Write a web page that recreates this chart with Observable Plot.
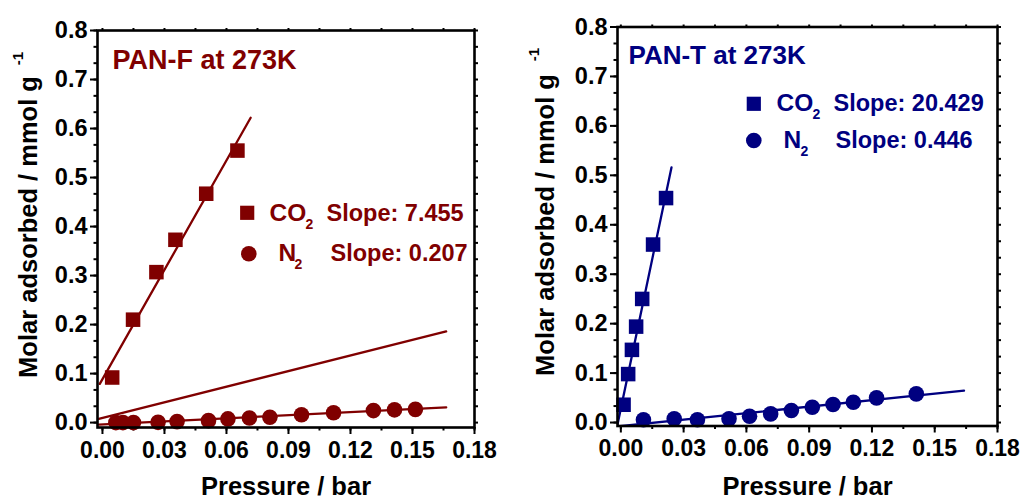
<!DOCTYPE html>
<html><head><meta charset="utf-8">
<script src="https://cdn.jsdelivr.net/npm/d3@7"></script>
<script src="https://cdn.jsdelivr.net/npm/@observablehq/plot@0.6"></script>
<style>
body{margin:0;background:#fff}
#wrap{position:relative;width:1023px;height:499px;overflow:hidden;background:#fff}
#wrap svg{position:absolute;top:0}
</style>
</head><body><div id="wrap"></div>
<script>
// ---- tick labels ----
const xTickLabels = [0.00, 0.03, 0.06, 0.09, 0.12, 0.15, 0.18];
const yTickLabels = [0.0, 0.1, 0.2, 0.3, 0.4, 0.5, 0.6, 0.7, 0.8];
const xAxisTitle = "Pressure / bar";
const yAxisTitle = "Molar adsorbed / mmol g";
const yAxisSup = "-1";

// ---- PAN-F (left) ----
const pfTitle = "PAN-F at 273K";
const pfCO2Pressure = [0.0047, 0.0148, 0.0261, 0.0353, 0.0502, 0.0653];
const pfCO2Uptake   = [0.092, 0.210, 0.307, 0.373, 0.467, 0.555];
const pfN2Pressure  = [0.0065, 0.0099, 0.0150, 0.0269, 0.0361, 0.0513, 0.0607, 0.0711, 0.0810, 0.0963, 0.1118, 0.1311, 0.1413, 0.1514];
const pfN2Uptake    = [0.000, 0.000, 0.000, 0.0005, 0.002, 0.004, 0.0075, 0.0095, 0.011, 0.016, 0.020, 0.0245, 0.026, 0.027];
const pfCO2FitP = [-0.0013, 0.0717];
const pfCO2FitQ = [0.079, 0.622];
const pfMidFitP = [-0.0018, 0.1663];
const pfMidFitQ = [0.0076, 0.186];
const pfN2FitP  = [-0.0018, 0.1663];
const pfN2FitQ  = [-0.004, 0.031];
const pfCO2Slope = "Slope: 7.455";
const pfN2Slope  = "Slope: 0.207";

// ---- PAN-T (right) ----
const ptTitle = "PAN-T at 273K";
const ptCO2Pressure = [0.0013, 0.0035, 0.0053, 0.0073, 0.0102, 0.0154, 0.0216];
const ptCO2Uptake   = [0.036, 0.098, 0.147, 0.194, 0.250, 0.360, 0.454];
const ptN2Pressure  = [0.0108, 0.0255, 0.0366, 0.0517, 0.0615, 0.0716, 0.0815, 0.0915, 0.1014, 0.1111, 0.1222, 0.1412];
const ptN2Uptake    = [0.0055, 0.0075, 0.0055, 0.0075, 0.0127, 0.0175, 0.0242, 0.0309, 0.0364, 0.0410, 0.0499, 0.058];
const ptCO2FitP = [-0.0016, 0.0242];
const ptCO2FitQ = [-0.004, 0.516];
const ptN2FitP  = [-0.0016, 0.164];
const ptN2FitQ  = [-0.008, 0.0646];
const ptCO2Slope = "Slope: 20.429";
const ptN2Slope  = "Slope: 0.446";

const xMinor = d3.range(0, 0.1801, 0.015);
const yMinor = d3.range(0, 0.8001, 0.1 / 3);

function pts(xs, ys) { return xs.map((x, i) => ({p: x, q: ys[i]})); }

function label(txt, o) {
  return Plot.text([txt], Object.assign({frameAnchor: "top-left", textAnchor: "start", lineAnchor: "bottom", fill: o.fill || "black", fontSize: o.fontSize || 23.5, fontWeight: "bold"}, o));
}

function panel(c) {
  const color = c.color;
  const L = c.leg;
  return Plot.plot({
    width: c.width, height: 499,
    marginLeft: c.mL, marginRight: c.mR, marginTop: c.mT, marginBottom: c.mB,
    x: {domain: c.xDomain},
    y: {domain: c.yDomain},
    style: {fontFamily: "'Liberation Sans', Arial, sans-serif", fontWeight: "bold", fontSize: "23px", color: "black", background: "transparent", overflow: "visible"},
    marks: [
      // minor ticks
      Plot.axisX({ticks: xMinor, tickSize: 3.5, tickFormat: () => "", label: null, strokeWidth: 2}),
      Plot.axisY({ticks: yMinor, tickSize: 3.5, tickFormat: () => "", label: null, strokeWidth: 2}),
      Plot.axisX({anchor: "top", ticks: xMinor, tickSize: 3, tickFormat: () => "", label: null, strokeWidth: 2}),
      Plot.axisY({anchor: "right", ticks: yMinor, tickSize: 3, tickFormat: () => "", label: null, strokeWidth: 2}),
      // major ticks
      Plot.axisX({ticks: xTickLabels, tickSize: 7, tickPadding: 7, tickFormat: ".2f", label: null, strokeWidth: 2, fontSize: 23, fontWeight: "bold"}),
      Plot.axisY({ticks: yTickLabels, tickSize: 7, tickPadding: 3, tickFormat: ".1f", label: null, strokeWidth: 2, fontSize: 23.5, fontWeight: "bold"}),
      // fit lines
      ...c.fits.map(f => Plot.line(pts(f[0], f[1]), {x: "p", y: "q", stroke: color, strokeWidth: 2.3, clip: true})),
      // data
      Plot.dot(pts(c.co2P, c.co2Q), {x: "p", y: "q", symbol: "square", r: 8.2, fill: color, stroke: "none"}),
      Plot.dot(pts(c.n2P, c.n2Q), {x: "p", y: "q", symbol: "circle", r: 7.8, fill: color, stroke: "none"}),
      Plot.frame({stroke: "black", strokeWidth: 2.6}),
      // title
      label(c.title, {dx: c.titlePos[0], dy: c.titlePos[1], fontSize: c.titleSize, fill: color}),
      // legend
      Plot.dot([0], {frameAnchor: "top-left", dx: L.sq[0], dy: L.sq[1], symbol: "square", r: 8, fill: color}),
      Plot.dot([0], {frameAnchor: "top-left", dx: L.ci[0], dy: L.ci[1], symbol: "circle", r: 7.8, fill: color}),
      label("CO", {dx: L.co[0], dy: L.co[1], fill: color, fontSize: 24.5}),
      label("2", {dx: L.co2sub[0], dy: L.co2sub[1], fill: color, fontSize: 14}),
      label(c.co2Slope, {dx: L.co2s[0], dy: L.co2s[1], fill: color}),
      label("N", {dx: L.n[0], dy: L.n[1], fill: color, fontSize: 24.5}),
      label("2", {dx: L.n2sub[0], dy: L.n2sub[1], fill: color, fontSize: 14}),
      label(c.n2Slope, {dx: L.n2s[0], dy: L.n2s[1], fill: color}),
      // axis titles
      Plot.text([xAxisTitle], {frameAnchor: "bottom", textAnchor: "middle", lineAnchor: "bottom", dy: c.xTitleDy, fontSize: 25.5, fontWeight: "bold", fill: "black"}),
      Plot.text([yAxisTitle], {frameAnchor: "top-left", textAnchor: "middle", lineAnchor: "bottom", rotate: -90, dx: c.yTitle[0], dy: c.yTitle[1], fontSize: 25.5, fontWeight: "bold", fill: "black"}),
      Plot.text([yAxisSup], {frameAnchor: "top-left", textAnchor: "middle", lineAnchor: "bottom", rotate: -90, dx: c.ySup[0], dy: c.ySup[1], fontSize: 15, fontWeight: "bold", fill: "black"})
    ]
  });
}

const left = panel({
  width: 511, mL: 97, mR: 37, mT: 30, mB: 72,
  xDomain: [-0.0024, 0.18], yDomain: [-0.01, 0.8],
  color: "#800000",
  title: pfTitle, titlePos: [15, 38], titleSize: 27,
  co2P: pfCO2Pressure, co2Q: pfCO2Uptake, n2P: pfN2Pressure, n2Q: pfN2Uptake,
  fits: [[pfCO2FitP, pfCO2FitQ], [pfMidFitP, pfMidFitQ], [pfN2FitP, pfN2FitQ]],
  co2Slope: pfCO2Slope, n2Slope: pfN2Slope,
  leg: {sq: [149.7, 182.3], ci: [151.3, 223.3], co: [172, 190], co2sub: [208, 198], co2s: [229, 190], n: [181, 230], n2sub: [197, 238], n2s: [233, 230]},
  xTitleDy: 67.5, yTitle: [-60.3, 196.5], ySup: [-75, 28]
});
const right = panel({
  width: 512, mL: 106, mR: 26, mT: 26.5, mB: 73.5,
  xDomain: [-0.0016, 0.18], yDomain: [-0.007, 0.8],
  color: "#000080",
  title: ptTitle, titlePos: [11, 36.5], titleSize: 26,
  co2P: ptCO2Pressure, co2Q: ptCO2Uptake, n2P: ptN2Pressure, n2Q: ptN2Uptake,
  fits: [[ptCO2FitP, ptCO2FitQ], [ptN2FitP, ptN2FitQ]],
  co2Slope: ptCO2Slope, n2Slope: ptN2Slope,
  leg: {sq: [136.3, 76.8], ci: [136.3, 113.5], co: [159, 83.5], co2sub: [195, 91.5], co2s: [216, 83.5], n: [166, 120.5], n2sub: [183, 128.5], n2s: [218, 120.5]},
  xTitleDy: 69, yTitle: [-63.7, 198], ySup: [-79, 27.5]
});
left.style.left = "0px";
right.style.left = "511px";
const wrap = document.getElementById("wrap");
wrap.appendChild(left);
wrap.appendChild(right);
</script>
</body></html>
